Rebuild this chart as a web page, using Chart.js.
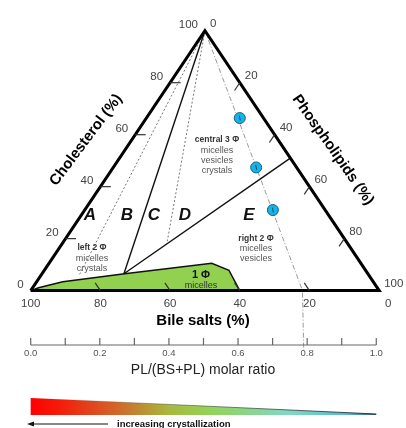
<!DOCTYPE html>
<html>
<head>
<meta charset="utf-8">
<script src="https://cdn.jsdelivr.net/npm/chart.js@4.4.1/dist/chart.umd.min.js"></script>
<style>
  body { margin: 0; background: #fff; }
  #wrap { width: 406px; height: 428px; }
</style>
</head>
<body>
<div id="wrap"><canvas id="chart" width="406" height="428"></canvas></div>
<script>
// compositions are [bile salts, phospholipids, cholesterol] in %
const edgeTicks = [0, 20, 40, 60, 80, 100];
const ratioTicks = [0, 0.1, 0.2, 0.3, 0.4, 0.5, 0.6, 0.7, 0.8, 0.9, 1.0];
const ratioLabels = [0, 0.2, 0.4, 0.6, 0.8, 1.0];

const triangle = [[100, 0, 0], [0, 100, 0], [0, 0, 100], [100, 0, 0]];
const micellarZone = [[100, 0, 0], [97.2, 1.7, 1.1], [89.1, 7.5, 3.4], [69.8, 23.7, 6.5],
  [42.8, 46.7, 10.5], [39.2, 53.0, 7.8], [40, 60, 0], [100, 0, 0]];
const lineAB = [[0, 0, 100], [83.4, 11, 5.6]];
const lineBC = [[0, 0, 100], [70, 23.5, 6.5]];
const lineCD = [[0, 0, 100], [51.3, 29.7, 19]];
const lineE = [[70, 23.5, 6.5], [0, 49, 51]];
const guideLine = [[0, 0, 100], [22, 78, 0]];
const guideRatio = 0.79;
const biles = [[6.8, 26.8, 66.4], [11.6, 41.0, 47.4], [15.0, 54.0, 31.0]];

function toXY(c) {
  return { x: c[1] / 100 + 0.5 * c[2] / 100, y: c[2] / 100 };
}

function lineSet(pts, color, width, dash, order) {
  return {
    data: pts.map(toXY), showLine: true, pointRadius: 0,
    borderColor: color, borderWidth: width, borderDash: dash || [], order: order
  };
}

const datasets = [
  lineSet(triangle, '#000', 3, null, 0),
  {
    data: biles.map(toXY), pointRadius: 5.5, backgroundColor: '#14b4ea',
    borderColor: '#1c5f7c', borderWidth: 1, order: 1
  },
  lineSet(lineBC, '#111', 1.4, null, 2),
  lineSet(lineE, '#111', 1.4, null, 2),
  lineSet(lineAB, '#777', 1, [2, 2], 2),
  lineSet(lineCD, '#777', 1, [2, 2], 2),
  lineSet(guideLine, '#999', 1, [5, 2, 1, 2], 2),
  Object.assign(lineSet(micellarZone, '#111', 1.4, null, 3), {
    fill: 'shape', backgroundColor: '#92d050'
  })
];

function txt(ctx, s, x, y, font, color, align) {
  ctx.font = font;
  ctx.fillStyle = color;
  ctx.textAlign = align || 'center';
  ctx.textBaseline = 'middle';
  ctx.fillText(s, x, y);
}

const ternaryDecor = {
  id: 'ternaryDecor',
  afterDraw(chart) {
    const ctx = chart.ctx;
    const sx = chart.scales.x, sy = chart.scales.y, sr = chart.scales.xr;
    const pix = c => { const p = toXY(c); return { x: sx.getPixelForValue(p.x), y: sy.getPixelForValue(p.y) }; };
    const seg = (a, b) => { ctx.beginPath(); ctx.moveTo(a.x, a.y); ctx.lineTo(b.x, b.y); ctx.stroke(); };
    const tickFont = '11.5px "Liberation Sans", Arial, sans-serif';
    ctx.save();

    // small marks inside the blue points
    ctx.strokeStyle = '#1c4f66';
    ctx.lineWidth = 1;
    biles.forEach(c => {
      const p = pix(c);
      seg({ x: p.x - 0.5, y: p.y - 2.5 }, { x: p.x + 0.5, y: p.y + 2.5 });
    });

    // edge ticks
    ctx.strokeStyle = '#333';
    ctx.lineWidth = 1.2;
    edgeTicks.filter(v => v > 0 && v < 100).forEach(v => {
      seg(pix([100 - v, 0, v]), pix([97 - v, 3, v]));
      seg(pix([0, v, 100 - v]), pix([3, v, 97 - v]));
      seg(pix([v, 100 - v, 0]), pix([v, 97 - v, 3]));
    });

    // edge labels
    edgeTicks.forEach(v => {
      const l = pix([100 - v, 0, v]);
      txt(ctx, String(v), l.x - 7, l.y - 6, tickFont, '#444', 'right');
      const r = pix([0, v, 100 - v]);
      txt(ctx, String(v), r.x + 5, r.y - 7, tickFont, '#444', 'left');
      const b = pix([v, 100 - v, 0]);
      txt(ctx, String(v), b.x + (v === 0 ? 9 : 0), 304, tickFont, '#444');
    });

    // axis titles
    const titleFont = 'bold 15px "Liberation Sans", Arial, sans-serif';
    ctx.save();
    ctx.translate(86, 140);
    ctx.rotate(-53 * Math.PI / 180);
    txt(ctx, 'Cholesterol (%)', 0, 0, titleFont, '#000');
    ctx.restore();
    ctx.save();
    ctx.translate(333, 150);
    ctx.rotate(55 * Math.PI / 180);
    txt(ctx, 'Phospholipids (%)', 0, 0, titleFont, '#000');
    ctx.restore();
    txt(ctx, 'Bile salts (%)', 203, 321, titleFont, '#000');

    // region labels
    const letterFont = 'italic bold 17px "Liberation Sans", Arial, sans-serif';
    [['A', 90], ['B', 127], ['C', 154], ['D', 185], ['E', 249]].forEach(([s, x]) => {
      txt(ctx, s, x, 215, letterFont, '#111');
    });
    const bold = 'bold 8.5px "Liberation Sans", Arial, sans-serif';
    const small = '9px "Liberation Sans", Arial, sans-serif';
    txt(ctx, 'central 3 Φ', 217, 140, bold, '#333');
    txt(ctx, 'micelles', 217, 151, small, '#555');
    txt(ctx, 'vesicles', 217, 161, small, '#555');
    txt(ctx, 'crystals', 217, 171, small, '#555');
    txt(ctx, 'left 2 Φ', 92, 248, bold, '#333');
    txt(ctx, 'micelles', 92, 259, small, '#555');
    txt(ctx, 'crystals', 92, 269, small, '#555');
    txt(ctx, 'right 2 Φ', 256, 239, bold, '#333');
    txt(ctx, 'micelles', 256, 249, small, '#555');
    txt(ctx, 'vesicles', 256, 259, small, '#555');
    txt(ctx, '1 Φ', 201, 275, 'bold 11px "Liberation Sans", Arial, sans-serif', '#111');
    txt(ctx, 'micelles', 201, 285.5, small, '#333');

    // ratio axis
    const axY = 345;
    const gb = pix(guideLine[1]);
    ctx.strokeStyle = '#999';
    ctx.lineWidth = 1;
    ctx.setLineDash([5, 2, 1, 2]);
    seg({ x: gb.x, y: gb.y + 2 }, { x: sr.getPixelForValue(guideRatio), y: axY + 5 });
    ctx.setLineDash([]);
    ctx.strokeStyle = '#666';
    ctx.lineWidth = 1.2;
    seg({ x: sr.getPixelForValue(0), y: axY }, { x: sr.getPixelForValue(1), y: axY });
    ratioTicks.forEach(v => {
      const x = sr.getPixelForValue(v);
      seg({ x: x, y: axY }, { x: x, y: axY - 7 });
    });
    ratioLabels.forEach(v => {
      txt(ctx, v.toFixed(1), sr.getPixelForValue(v), 353, '9.5px "Liberation Sans", Arial, sans-serif', '#555');
    });
    txt(ctx, 'PL/(BS+PL) molar ratio', 203, 370, '14px "Liberation Sans", Arial, sans-serif', '#222');

    // crystallization wedge
    const x0 = sr.getPixelForValue(0), x1 = sr.getPixelForValue(1);
    const g = ctx.createLinearGradient(x0, 0, x1, 0);
    g.addColorStop(0, '#ff0000');
    g.addColorStop(0.08, '#f51a0a');
    g.addColorStop(0.25, '#d2662a');
    g.addColorStop(0.4, '#a7b93e');
    g.addColorStop(0.52, '#92d456');
    g.addColorStop(0.75, '#7fd8c4');
    g.addColorStop(0.92, '#56b8cf');
    g.addColorStop(1, '#3a5a66');
    ctx.fillStyle = g;
    ctx.beginPath();
    ctx.moveTo(x0, 398);
    ctx.lineTo(x1, 414);
    ctx.lineTo(x1, 415);
    ctx.lineTo(x0, 415);
    ctx.closePath();
    ctx.fill();
    const gs = ctx.createLinearGradient(x0, 0, x1, 0);
    gs.addColorStop(0, 'rgba(40,40,40,0)');
    gs.addColorStop(0.5, 'rgba(40,40,40,0.5)');
    gs.addColorStop(1, 'rgba(40,40,40,0.9)');
    ctx.strokeStyle = gs;
    ctx.lineWidth = 1;
    seg({ x: x0, y: 398 }, { x: x1, y: 414 });

    // arrow
    ctx.strokeStyle = '#111';
    ctx.fillStyle = '#111';
    ctx.lineWidth = 1;
    seg({ x: 108, y: 424 }, { x: 32, y: 424 });
    ctx.beginPath();
    ctx.moveTo(27, 424);
    ctx.lineTo(34, 421.5);
    ctx.lineTo(34, 426.5);
    ctx.closePath();
    ctx.fill();
    txt(ctx, 'increasing crystallization', 117, 424, 'bold 9.5px "Liberation Sans", Arial, sans-serif', '#111', 'left');

    ctx.restore();
  }
};

new Chart(document.getElementById('chart').getContext('2d'), {
  type: 'scatter',
  data: { datasets: datasets },
  options: {
    responsive: false,
    animation: false,
    layout: { padding: 0 },
    plugins: { legend: { display: false }, tooltip: { enabled: false } },
    scales: {
      x: { type: 'linear', display: false, min: -25 / 360, max: 381 / 360 },
      y: { type: 'linear', display: false, min: -135 / 268, max: 293 / 268 },
      xr: { type: 'linear', axis: 'x', display: false, min: -25 / 357, max: 381 / 357 }
    }
  },
  plugins: [ternaryDecor]
});
</script>
</body>
</html>
